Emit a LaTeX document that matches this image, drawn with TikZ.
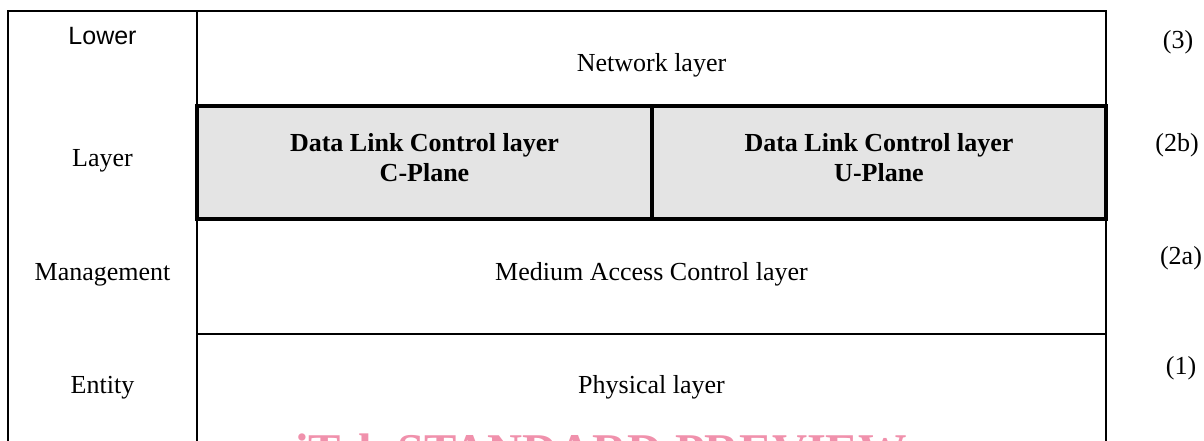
\documentclass[tikz,border=0pt]{standalone}
\usepackage{fontspec}
\setmainfont{Liberation Serif}
\newfontfamily\arialfont{Liberation Sans}
\definecolor{dlcgrey}{RGB}{228,228,228}
\definecolor{wmpink}{RGB}{240,145,172}
\begin{document}
\begin{tikzpicture}[x=1pt,y=-1pt,
  frame/.style={draw=black,line width=1.8pt,inner sep=0pt,outer sep=0pt},
  greybox/.style={draw=black,line width=3.6pt,fill=dlcgrey,inner sep=0pt,outer sep=0pt},
  txt/.style={anchor=base,inner sep=0pt,font=\fontsize{26}{30}\selectfont},
  btxt/.style={anchor=base,inner sep=0pt,font=\fontsize{26}{30}\selectfont\bfseries},
  stxt/.style={anchor=base,inner sep=0pt,font=\arialfont\fontsize{25}{30}\selectfont},
  wmark/.style={anchor=base,inner sep=0pt,text=wmpink,font=\fontsize{48.5}{50}\selectfont\bfseries}]
\useasboundingbox (0,0) rectangle (1204,441);
\clip (0,0) rectangle (1204,441);
% boxes
\node[frame,minimum width=189pt,minimum height=469pt] (lme) at (102.5,245.5) {};
\node[frame,minimum width=909pt,minimum height=95pt] (net) at (651.5,58.5) {};
\node[frame,minimum width=909pt,minimum height=115pt] (mac) at (651.5,276.5) {};
\node[frame,minimum width=909pt,minimum height=146pt] (phy) at (651.5,407) {};
\node[greybox,minimum width=455pt,minimum height=113pt] (dlcc) at (424.5,162.5) {};
\node[greybox,minimum width=454pt,minimum height=113pt] (dlcu) at (879,162.5) {};
% left column
\node[stxt] (lower) at (102.5,45) {Lower};
\node[txt] (layer) at (102.5,166) {Layer};
\node[txt] (mgmt) at (102.5,280) {Management};
\node[txt] (entity) at (102.5,393) {Entity};
% layer texts
\node[txt] (nettxt) at (651.5,72) {Network layer};
\node[btxt] (dlcc1) at (424.5,151) {Data Link Control layer};
\node[btxt] (dlcc2) at (424.5,181) {C-Plane};
\node[btxt] (dlcu1) at (879,151) {Data Link Control layer};
\node[btxt] (dlcu2) at (879,181) {U-Plane};
\node[txt] (mactxt) at (651.5,280) {Medium Access Control layer};
\node[txt] (phytxt) at (651.5,393) {Physical layer};
% right labels
\node[txt] (l3) at (1178,49) {(3)};
\node[txt] (l2b) at (1177,151) {(2b)};
\node[txt] (l2a) at (1181,264) {(2a)};
\node[txt] (l1) at (1181,374) {(1)};
% watermark (cut off by the lower edge, as in the reference)
\node[wmark] (wm) at (601,467) {iTeh STANDARD PREVIEW};
\end{tikzpicture}
\end{document}
